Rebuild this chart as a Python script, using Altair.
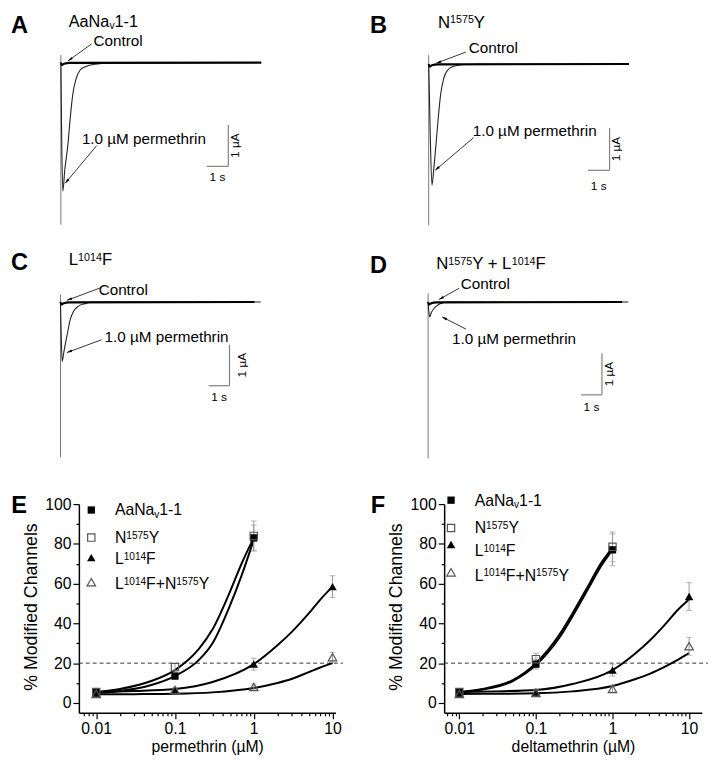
import math
import altair as alt
import pandas as pd

FONT = "Liberation Sans"

# ---------------- current traces: time (s) and current (µA) ----------------
A_perm_t = [0, 0.03, 0.09, 0.18, 0.33, 0.42, 0.55, 0.71, 0.89, 1.12, 1.57, 2.5, 9.25]
A_perm_i = [0, -1.5, -3.11, -2.6, -1.96, -1.41, -0.77, -0.38, -0.18, -0.10, -0.04, -0.01, 0]
B_perm_t = [0, 0.06, 0.15, 0.23, 0.34, 0.43, 0.55, 0.70, 0.88, 1.11, 1.62, 2.5, 9.25]
B_perm_i = [0, -1.4, -2.86, -2.50, -1.88, -1.34, -0.72, -0.33, -0.14, -0.06, -0.01, 0, 0]
C_perm_t = [0, 0.03, 0.08, 0.16, 0.31, 0.47, 0.63, 0.86, 1.17, 1.49, 9.55]
C_perm_i = [0, -0.7, -1.45, -1.22, -0.82, -0.42, -0.22, -0.10, -0.04, 0, 0]
D_perm_t = [0, 0.03, 0.08, 0.15, 0.31, 0.50, 0.70, 0.94, 9.55]
D_perm_i = [0, -0.2, -0.36, -0.26, -0.14, -0.06, -0.02, 0, 0]
ctrl_t = [0, 0.04, 0.15, 0.4, 9.25]
ctrl_i = [0, -0.06, -0.03, -0.01, 0]
A_artifact = [0.18, -3.92]
B_artifact = [0.21, -3.81]
C_artifact = [0.18, -3.78]
D_artifact = [0.21, -3.76]

# ---------------- labels (segments: normal / sup / sub) ----------------
LBL_WT = [("AaNa", "n"), ("v", "sub"), ("1-1", "n")]
LBL_N = [("N", "n"), ("1575", "sup"), ("Y", "n")]
LBL_L = [("L", "n"), ("1014", "sup"), ("F", "n")]
LBL_LN = [("L", "n"), ("1014", "sup"), ("F+N", "n"), ("1575", "sup"), ("Y", "n")]
LBL_NL = [("N", "n"), ("1575", "sup"), ("Y + L", "n"), ("1014", "sup"), ("F", "n")]
series_labels = [LBL_WT, LBL_N, LBL_L, LBL_LN]

# ---------------- concentration-response data ----------------
conc = [0.01, 0.1, 1, 10]

perm_wt = [5.5, 13.5, 83.0]
perm_wt_sd = [1.0, 1.5, 6.5]
perm_n1575y = [5.5, 18.0, 84.0]
perm_n1575y_sd = [1.0, 2.0, 7.5]
perm_l1014f = [5.0, 6.5, 19.5, 58.5]
perm_l1014f_sd = [1.0, 1.0, 3.0, 5.5]
perm_double = [4.5, 6.5, 8.0, 23.0]
perm_double_sd = [1.5, 1.0, 1.5, 2.5]

delta_wt = [5.5, 19.5, 77.0]
delta_wt_sd = [1.0, 2.5, 8.0]
delta_n1575y = [5.5, 22.0, 78.5]
delta_n1575y_sd = [1.0, 3.0, 7.5]
delta_l1014f = [5.0, 5.5, 16.5, 53.5]
delta_l1014f_sd = [1.0, 1.5, 3.0, 7.0]
delta_double = [4.5, 5.0, 7.0, 28.5]
delta_double_sd = [1.5, 1.5, 1.5, 4.5]

# fitted curves
fit_conc_short = [0.01, 0.02, 0.05, 0.1, 0.2, 0.3, 0.5, 0.7, 1.0]
fit_conc_long = [0.01, 0.03, 0.1, 0.3, 1, 2, 3, 5, 7, 10]
perm_fit_wt = [5.0, 6.0, 9.0, 13.5, 21.5, 30.0, 49.0, 64.0, 82.0]
perm_fit_n1575y = [5.5, 7.0, 11.0, 16.5, 27.0, 37.0, 56.0, 70.0, 83.0]
perm_fit_l1014f = [5.5, 6.0, 7.0, 10.5, 19.5, 29.0, 35.5, 45.0, 52.0, 58.5]
perm_fit_double = [4.3, 4.4, 4.6, 5.3, 7.5, 10.0, 12.0, 15.5, 17.8, 20.0]
delta_fit_wt = [5.2, 6.7, 11.0, 19.0, 32.5, 43.5, 58.5, 68.5, 77.0]
delta_fit_n1575y = [5.5, 7.0, 11.5, 20.0, 34.0, 45.0, 60.0, 70.0, 78.0]
delta_fit_l1014f = [5.5, 5.8, 6.5, 9.5, 16.5, 25.0, 31.0, 40.0, 46.5, 52.0]
delta_fit_double = [4.5, 4.6, 4.8, 5.8, 8.5, 12.0, 14.5, 18.5, 21.5, 25.0]

x_tick_values = [0.007, 0.008, 0.009, 0.01, 0.02, 0.03, 0.04, 0.05, 0.06, 0.07, 0.08, 0.09,
                 0.1, 0.2, 0.3, 0.4, 0.5, 0.6, 0.7, 0.8, 0.9,
                 1, 2, 3, 4, 5, 6, 7, 8, 9, 10]
y_tick_values = [0, 10, 20, 30, 40, 50, 60, 70, 80, 90, 100]

# Liberation Sans (Arial-metric) advance widths, per 1000 em
GLYPH_W = {" ": 278, "+": 584, "-": 333, "0": 556, "1": 556, "4": 556, "5": 556, "7": 556,
           "A": 667, "F": 611, "L": 556, "N": 722, "Y": 667, "a": 556, "v": 500}


def df(**cols):
    return pd.DataFrame(cols)


def rich_text(segments, x, y, fs):
    """Text with super/subscripts as a set of text marks at pixel positions."""
    layers = []
    cx = x
    for txt, kind in segments:
        size = fs if kind == "n" else fs * 0.64
        dy = -0.27 * fs if kind == "sup" else (0.17 * fs if kind == "sub" else 0)
        layers.append(alt.Chart(df(s=[txt])).mark_text(font=FONT, fontSize=size, align="left",
                                                       baseline="alphabetic")
                      .encode(x=alt.value(cx), y=alt.value(y + dy), text="s:N"))
        cx += sum(GLYPH_W.get(c, 556) for c in txt) / 1000 * size
    return layers


# ---------------- trace panels ----------------
def trace_panel(p, perm_t, perm_i, art, bar, ann, letter, title):
    W, H = p["w"], p["h"]
    tmin = (p["vx"] - p["x0"]) / p["pxs"]
    tmax = tmin + W / p["pxs"]
    imax = (p["y0"] - p["vy"]) / p["pxu"]
    imin = imax - H / p["pxu"]
    xs = alt.Scale(domain=[tmin, tmax], nice=False, zero=False)
    ys = alt.Scale(domain=[imin, imax], nice=False, zero=False)

    def X(f):
        return alt.X(f, type="quantitative", scale=xs, axis=None)

    def Y(f):
        return alt.Y(f, type="quantitative", scale=ys, axis=None)

    layers = []
    layers.append(alt.Chart(df(t=[0, 0], i=art)).mark_line(color="#777777", strokeWidth=1)
                  .encode(x=X("t"), y=Y("i")))
    layers.append(alt.Chart(df(t=perm_t, i=perm_i)).mark_line(color="#222222", strokeWidth=1.1, interpolate="monotone")
                  .encode(x=X("t"), y=Y("i")))
    layers.append(alt.Chart(df(t=ctrl_t, i=ctrl_i)).mark_line(color="black", strokeWidth=2.2, interpolate="monotone")
                  .encode(x=X("t"), y=Y("i")))
    # scale bars: 1 s and 1 µA
    bt, bi = bar["t"], bar["i"]
    layers.append(alt.Chart(df(t=[bt - 1], t2=[bt], i=[bi])).mark_rule(color="#808080", strokeWidth=1.2)
                  .encode(x=X("t"), x2="t2:Q", y=Y("i")))
    layers.append(alt.Chart(df(t=[bt], i=[bi], i2=[bi + 1])).mark_rule(color="#808080", strokeWidth=1.2)
                  .encode(x=X("t"), y=Y("i"), y2="i2:Q"))
    layers.append(alt.Chart(df(t=[bt - 0.5], i=[bi - bar["sdy"] / p["pxu"]], s=["1 s"]))
                  .mark_text(font=FONT, fontSize=12, align="center", baseline="alphabetic")
                  .encode(x=X("t"), y=Y("i"), text="s:N"))
    layers.append(alt.Chart(df(t=[bt + bar["adx"] / p["pxs"]], i=[bi + 0.5], s=["1 µA"]))
                  .mark_text(font=FONT, fontSize=12, align="center", baseline="alphabetic", angle=270)
                  .encode(x=X("t"), y=Y("i"), text="s:N"))
    # annotations with arrows
    for txt, (tx, ty), (t1, i1, t2, i2) in ann:
        layers.append(alt.Chart(df(t=[tx], i=[ty], s=[txt]))
                      .mark_text(font=FONT, fontSize=15.5, align="left", baseline="middle")
                      .encode(x=X("t"), y=Y("i"), text="s:N"))
        layers.append(alt.Chart(df(t=[t1], i=[i1], t2=[t2], i2=[i2])).mark_rule(color="black", strokeWidth=0.8)
                      .encode(x=X("t"), y=Y("i"), x2="t2:Q", y2="i2:Q"))
        dx = (t2 - t1) * p["pxs"]
        dys = -(i2 - i1) * p["pxu"]
        ang = math.degrees(math.atan2(dx, -dys)) % 360
        layers.append(alt.Chart(df(t=[t2], i=[i2]))
                      .mark_point(shape="M0,0L-0.45,1.7L0.45,1.7Z", filled=True, color="black",
                                  size=36, angle=ang, opacity=1)
                      .encode(x=X("t"), y=Y("i")))
    # panel letter and title
    layers.append(alt.Chart(df(s=[letter[0]])).mark_text(font=FONT, fontSize=24, fontWeight="bold",
                                                          align="left", baseline="alphabetic")
                  .encode(x=alt.value(letter[1]), y=alt.value(letter[2]), text="s:N"))
    layers += rich_text(title[0], title[1], title[2], title[3])
    return alt.layer(*layers).properties(width=W, height=H)


pA = dict(vx=8, vy=8, w=352, h=222, x0=58.7, y0=57.5, pxs=22, pxu=42)
pB = dict(vx=360, vy=8, w=347, h=222, x0=432.3, y0=59, pxs=22, pxu=43)
pC = dict(vx=8, vy=230, w=352, h=261, x0=58.3, y0=300.7, pxs=21.3, pxu=41.7)
pD = dict(vx=360, vy=230, w=347, h=261, x0=431.7, y0=300.7, pxs=21.3, pxu=42.3)

PERM = "1.0 µM permethrin"
panelA = trace_panel(pA, A_perm_t, A_perm_i, A_artifact, dict(t=7.73, i=-2.51, sdy=15, adx=11.3),
                     [("Control", (1.51, 0.52), (1.42, 0.45, 0.33, 0.04)),
                      (PERM, (0.97, -1.85), (1.65, -2.01, 0.2, -2.92))],
                     ("A", 0, 19), (LBL_WT, 58.7, 13, 16.5))
panelB = trace_panel(pB, B_perm_t, B_perm_i, B_artifact, dict(t=8.35, i=-2.51, sdy=19.7, adx=11),
                     [("Control", (1.85, 0.37), (1.71, 0.28, 0.35, 0.02)),
                      (PERM, (2.03, -1.58), (2.07, -1.74, 0.30, -2.51))],
                     ("B", 12.7, 19), (LBL_N, 81.7, 14, 17))
panelC = trace_panel(pC, C_perm_t, C_perm_i, C_artifact, dict(t=8.06, i=-2.04, sdy=15, adx=17),
                     [("Control", (1.82, 0.28), (1.88, 0.34, 0.31, 0.04)),
                      (PERM, (2.10, -0.85), (1.96, -0.92, 0.31, -1.23))],
                     ("C", 0, 38.3), (LBL_L, 58.7, 33.3, 17))
panelD = trace_panel(pD, D_perm_t, D_perm_i, D_artifact, dict(t=8.29, i=-2.23, sdy=16.7, adx=11.7),
                     [("Control", (1.56, 0.42), (1.48, 0.33, 0.52, 0.06)),
                      (PERM, (1.14, -0.89), (1.80, -0.65, 0.67, -0.36))],
                     ("D", 12.7, 41.7), (LBL_NL, 80, 37.3, 17))

# ---------------- concentration-response panels ----------------
STYLES = [
    dict(shape="square", filled=True, color="black", size=55),
    dict(shape="square", filled=False, color="#555555", size=55, strokeWidth=1.2),
    dict(shape="triangle-up", filled=True, color="black", size=75),
    dict(shape="triangle-up", filled=False, color="#555555", size=75, strokeWidth=1.2),
]


def dose_panel(letter, letter_x, xtitle, xdomain, width, vals, sds, fits, leg, dash_end):
    H = 212
    xs = alt.Scale(type="log", domain=xdomain, nice=False)
    ys = alt.Scale(domain=[-5, 100], nice=False, zero=False)
    xaxis = alt.Axis(values=x_tick_values, format="~g",
                     labelExpr="indexof(['0.01','0.1','1','10'], datum.label) >= 0 ? datum.label : ''",
                     tickSize={"condition": {"test": "indexof([0.01,0.1,1,10], datum.value) >= 0", "value": 6},
                               "value": 3},
                     labelOverlap=False, grid=False, domainColor="black", domainWidth=1.5,
                     tickColor="black", tickWidth=1.2, labelColor="black", labelFontSize=16,
                     labelPadding=2, labelFont=FONT, title=xtitle, titleFont=FONT, titleFontSize=16,
                     titleFontWeight="normal", titleColor="black", titleX=width / 2, titleY=39,
                     titleBaseline="alphabetic", titleAlign="center")
    yaxis = alt.Axis(values=y_tick_values,
                     labelExpr="datum.value % 20 == 0 ? datum.label : ''",
                     tickSize={"condition": {"test": "datum.value % 20 == 0", "value": 6}, "value": 3},
                     labelOverlap=False, grid=False, domainColor="black", domainWidth=1.5,
                     tickColor="black", tickWidth=1.2, labelColor="black", labelFontSize=16,
                     labelPadding=2, labelFont=FONT, title="% Modified Channels", titleFont=FONT,
                     titleFontSize=18, titleFontWeight="normal", titleColor="black", titleAngle=270,
                     titleX=-43, titleY=104, titleBaseline="alphabetic", titleAlign="center")

    def X(f):
        return alt.X(f, type="quantitative", scale=xs, axis=xaxis)

    def Y(f):
        return alt.Y(f, type="quantitative", scale=ys, axis=yaxis)

    layers = []
    layers.append(alt.Chart(df(x1=[xdomain[0]], x2=[dash_end], y=[20]))
                  .mark_rule(strokeDash=[4, 3], color="#333333", strokeWidth=1)
                  .encode(x=X("x1"), x2="x2:Q", y=Y("y")))
    for fc, fv in fits:
        layers.append(alt.Chart(df(c=fc, v=fv)).mark_line(color="black", strokeWidth=2, interpolate="monotone")
                      .encode(x=X("c"), y=Y("v")))
    for v, sd in zip(vals, sds):
        n = len(v)
        lo = [a - b for a, b in zip(v, sd)]
        hi = [a + b for a, b in zip(v, sd)]
        d = df(c=conc[:n], lo=lo, hi=hi)
        layers.append(alt.Chart(d).mark_rule(color="#999999", strokeWidth=1)
                      .encode(x=X("c"), y=Y("lo"), y2="hi:Q"))
        layers.append(alt.Chart(d).mark_tick(orient="horizontal", size=6, thickness=1, color="#999999")
                      .encode(x=X("c"), y=Y("lo")))
        layers.append(alt.Chart(d).mark_tick(orient="horizontal", size=6, thickness=1, color="#999999")
                      .encode(x=X("c"), y=Y("hi")))
    for v, st in zip(vals, STYLES):
        n = len(v)
        layers.append(alt.Chart(df(c=conc[:n], v=v)).mark_point(opacity=1, **st)
                      .encode(x=X("c"), y=Y("v")))
    # legend
    sx, tx, sy_list, ty_list = leg
    for lab, st, sy, ty in zip(series_labels, STYLES, sy_list, ty_list):
        layers.append(alt.Chart(df(s=[0])).mark_point(opacity=1, **st)
                      .encode(x=alt.value(sx), y=alt.value(sy)))
        layers += rich_text(lab, tx, ty, 16)
    layers.append(alt.Chart(df(s=[letter])).mark_text(font=FONT, fontSize=24, fontWeight="bold",
                                                       align="left", baseline="alphabetic")
                  .encode(x=alt.value(letter_x), y=alt.value(9.3), text="s:N"))
    # invisible anchor fixing the top extent of this row
    layers.append(alt.Chart(df(s=[0])).mark_point(size=4, opacity=0, filled=True, strokeWidth=0)
                  .encode(x=alt.value(0), y=alt.value(-14)))
    return alt.layer(*layers).properties(width=width, height=H)


panelE = dose_panel("E", -68.7, "permethrin (µM)", [0.00603, 10.9], 260.6,
                    [perm_wt, perm_n1575y, perm_l1014f, perm_double],
                    [perm_wt_sd, perm_n1575y_sd, perm_l1014f_sd, perm_double_sd],
                    [(fit_conc_short, perm_fit_wt), (fit_conc_short, perm_fit_n1575y),
                     (fit_conc_long, perm_fit_l1014f), (fit_conc_long, perm_fit_double)],
                    (12.6, 36.6, [6, 34, 54.3, 79.3], [11, 39.3, 61, 86]), 13.6)
panelF = dose_panel("F", -74.6, "deltamethrin (µM)", [0.00634, 14.66], 261.7,
                    [delta_wt, delta_n1575y, delta_l1014f, delta_double],
                    [delta_wt_sd, delta_n1575y_sd, delta_l1014f_sd, delta_double_sd],
                    [(fit_conc_short, delta_fit_wt), (fit_conc_short, delta_fit_n1575y),
                     (fit_conc_long, delta_fit_l1014f), (fit_conc_long, delta_fit_double)],
                    (7, 31, [-4, 24.3, 41, 69.3], [1.6, 29.3, 52.6, 77.6]), 17.6)


def spacer(w, h):
    return (alt.Chart(df(v=[0])).mark_point(opacity=0)
            .encode(x=alt.value(0), y=alt.value(0)).properties(width=w, height=h))


row1 = alt.hconcat(panelA, panelB, spacing=0, bounds="flush")
row2 = alt.hconcat(panelC, panelD, spacing=0, bounds="flush")
row3 = alt.hconcat(spacer(68.7, 212), panelE, spacer(110, 212), panelF, spacing=0, bounds="flush")

chart = (alt.vconcat(row1, row2, row3, spacing=0)
         .properties(padding=0, background="white")
         .configure(font=FONT, view=alt.ViewConfig(stroke=None)))

chart.save("out.html", embed_options={"renderer": "svg", "actions": False})
